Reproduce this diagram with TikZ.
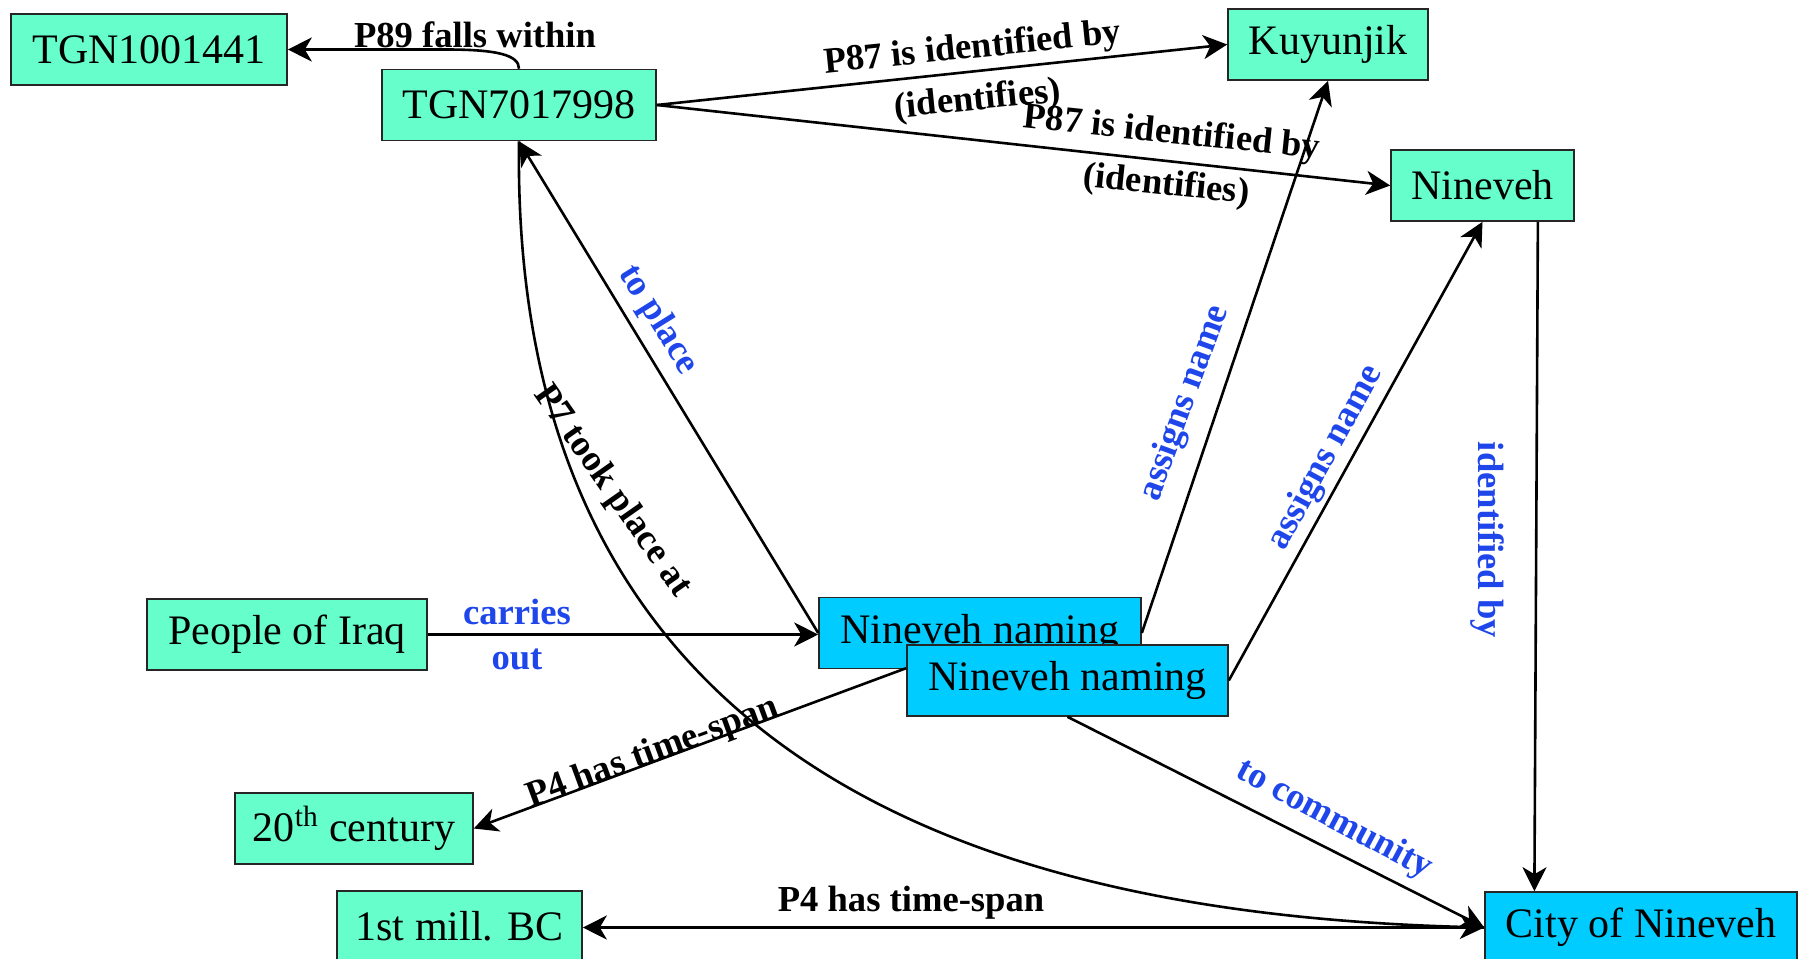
\documentclass[tikz,border=0pt]{standalone}
\usepackage{fontspec}
\setmainfont{Liberation Serif}
\usetikzlibrary{arrows.meta,calc}
\definecolor{boxgreen}{HTML}{66FFCC}
\definecolor{boxblue}{HTML}{00CCFF}
\definecolor{labblue}{RGB}{30,70,235}
\begin{document}
\begin{tikzpicture}[x=0.5pt,y=-0.5pt,
  box/.style={draw=black!85, line width=0.8pt, fill=boxgreen, minimum height=35.5pt, inner sep=0pt, font=\fontsize{21}{25}\selectfont},
  evbox/.style={box, fill=boxblue},
  conn/.style={line width=1.3pt, -{Stealth[length=12pt,width=12pt,inset=3.5pt]}},
  lab/.style={font=\fontsize{18.3}{22.5}\selectfont\bfseries, inner sep=0pt, align=center},
  blab/.style={lab, text=labblue}]
\useasboundingbox (0,0) rectangle (1802,958);
\fill[white] (0,0) rectangle (1802,958);
% nodes
\node[box, minimum width=138pt] (T1) at (149,49.5) {TGN1001441};
\node[box, minimum width=137pt] (TGN) at (519,105) {TGN7017998};
\node[box, minimum width=100pt] (Kuy) at (1328,44.5) {Kuyunjik};
\node[box, minimum width=91.5pt] (Nin) at (1482.5,185.5) {Nineveh};
\node[box, minimum width=140pt] (Iraq) at (287,634.5) {People of Iraq};
\node[evbox, minimum width=161pt] (NNb) at (980,633) {Nineveh naming};
\node[evbox, minimum width=160.5pt] (NNf) at (1067.5,680.5) {Nineveh naming};
\node[box, minimum width=119pt] (C20) at (354,828.5) {20\textsuperscript{th} century};
\node[box, minimum width=122.5pt] (BC) at (459.5,926.5) {1st mill. BC};
\node[evbox, minimum width=156pt] (City) at (1641,927.5) {City of Nineveh};
% connectors
\coordinate (c89) at (446,49.5);
\draw[conn] (TGN.north) .. controls +(0,-14) and +(50,0) .. (c89) -- (T1.east);
\draw[conn] (TGN.east) -- (Kuy.west);
\draw[conn] (TGN.east) -- (Nin.west);
\draw[conn] (NNb.east) -- (Kuy.south);
\draw[conn] (NNf.east) -- (Nin.south);
\draw[conn] ($(Nin.south west)!0.8!(Nin.south east)$) -- ($(City.north west)!0.16!(City.north east)$);
\draw[conn] (Iraq.east) -- (Iraq.east -| NNb.west);
\draw[conn] (NNb.west) -- (TGN.south);
\draw[conn] ($(NNf.north west)!0.33!(NNf.south west)$) -- (C20.east);
\draw[conn] (NNf.south) -- (City.west);
\draw[conn] (TGN.south) .. controls (510,775) and (1000,915) .. (City.west);
\draw[conn] (City.west) -- (City.west -| BC.east);
% labels
\node[lab] (l89) at (475,35) {P89 falls within};
\node[lab, rotate=5.8] (l87a) at (975,75) {P87 is identified by\\[3.5pt](identifies)};
\node[lab, rotate=-6] (l87b) at (1169,160) {P87 is identified by\\[3.5pt](identifies)};
\node[blab, rotate=70] (lan1) at (1185,403) {assigns name};
\node[blab, rotate=61.5] (lan2) at (1326,458) {assigns name};
\node[blab, rotate=-90] (lidb) at (1487,540) {identified by};
\node[blab] (lco) at (517,635) {carries\\out};
\node[blab, rotate=-58] (ltp) at (658,320) {to place};
\node[lab, rotate=-55] (l7) at (612,491) {P7 took place at};
\node[lab, rotate=20.2] (l4a) at (653,753) {P4 has time-span};
\node[lab] (l4b) at (911,903) {P4 has time-span};
\node[blab, rotate=-28] (ltc) at (1334,820) {to community};
\end{tikzpicture}
\end{document}
